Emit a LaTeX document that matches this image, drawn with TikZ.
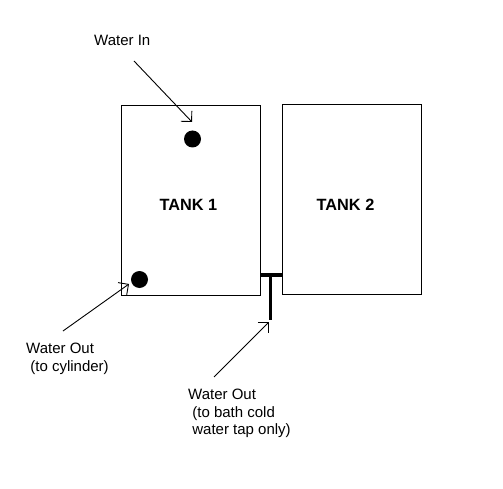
\documentclass[tikz,border=0pt]{standalone}
\usepackage{fontspec}
\setmainfont{Liberation Sans}
\usetikzlibrary{arrows.meta}

\begin{document}
\begin{tikzpicture}[
  x=1pt, y=-1pt,
  font=\fontsize{15}{17.5}\selectfont,
  >={Straight Barb[length=7.5pt,width=15pt]},
  pointer/.style={->, draw=black, line width=0.9pt},
  tank/.style={
    draw=black, line width=1pt, inner sep=0pt,
    minimum width=139pt, minimum height=190pt
  },
  tanklabel/.style={font=\fontsize{16.3}{19}\selectfont\bfseries, inner sep=0pt},
  port/.style={circle, fill=black, minimum size=17pt, inner sep=0pt},
  pipe/.style={draw=black, line width=3.5pt},
  caption/.style={align=left, inner sep=0pt, anchor=north west}
]
\useasboundingbox[fill=white] (0,0) rectangle (503,489);

% The two tanks.
\node[tank] (tank1) at (191,200.3) {};
\node[tank] (tank2) at (352,199.3) {};
\node[tanklabel] (label1) at (188.5,205) {TANK 1};
\node[tanklabel] (label2) at (345.5,205) {TANK 2};

% Inlet and outlet ports of tank 1.
\node[port] (inPort) at (192.5,139) {};
\node[port] (outPort) at (139.5,279.5) {};

% Tee pipe between the tanks.
\coordinate (pipeTee) at (270.5,275);
\coordinate (pipeEnd) at (270.5,320);
\draw[pipe] (tank1.east |- pipeTee) -- (tank2.west |- pipeTee);
\draw[pipe] (pipeTee) -- (pipeEnd);

% Captions.
\node[caption] (inText) at (94,35.3) {Water In};
\node[caption] (cylText) at (26,343.3) {Water Out\\~(to cylinder)};
\node[caption] (bathText) at (188,389.3)
  {Water Out\\~(to bath cold\\~water tap only)};

% Pointers.
\coordinate (inTail) at (134,61);
\coordinate (inTip) at (192,122);
\coordinate (cylTail) at (63,331);
\coordinate (cylTip) at (129,284);
\coordinate (bathTail) at (214,377);
\coordinate (bathTip) at (269,322);
\draw[pointer] (inTail) -- (inTip);
\draw[pointer] (cylTail) -- (cylTip);
\draw[pointer] (bathTail) -- (bathTip);

\end{tikzpicture}
\end{document}
